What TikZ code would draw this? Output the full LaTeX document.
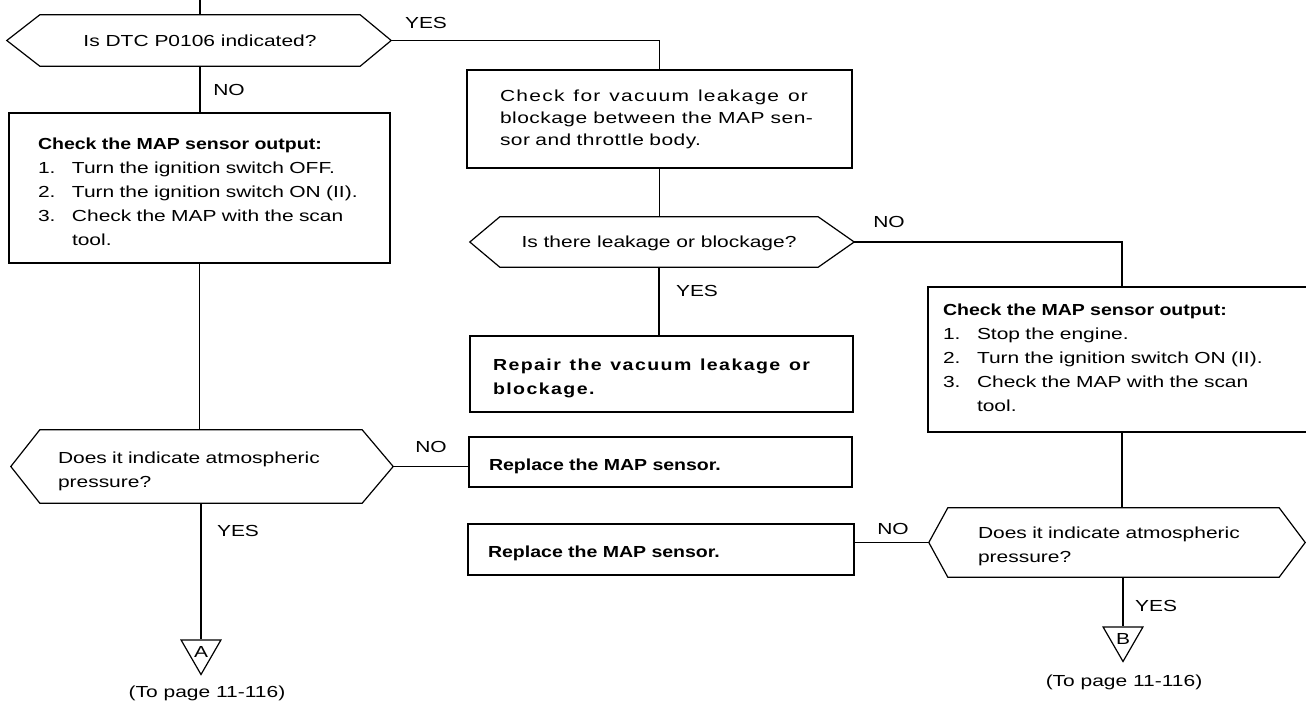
\documentclass[tikz,border=0pt]{standalone}
\usepackage{fontspec}
\setmainfont{Liberation Sans}[UprightFeatures={FakeStretch=1.31}, BoldFeatures={FakeStretch=1.22}]
\usetikzlibrary{shapes.geometric}
\newcommand\hexshape[3]{%
  \draw[conn] (#1.north west) -- ([xshift=-#2pt]#1.west) coordinate (#1w) -- (#1.south west)
    -- (#1.south east) -- ([xshift=#3pt]#1.east) coordinate (#1e) -- (#1.north east) -- cycle;}
\tikzset{
  conn/.style={line width=1.2pt, draw=black},
  box/.style={draw=black, line width=1.2pt, rectangle, align=left, inner ysep=0pt, font=\fontsize{16}{24}\selectfont},
  dec/.style={rectangle, draw=none, inner ysep=0pt, font=\fontsize{16}{24}\selectfont},
  lbl/.style={inner sep=0pt, font=\fontsize{16}{19}\selectfont},
  tri/.style={draw=black, line width=1.2pt, regular polygon, regular polygon sides=3, shape border rotate=180, minimum size=46pt, inner sep=0pt, font=\fontsize{16}{19}\selectfont},
}
\begin{document}
\begin{tikzpicture}[x=1pt,y=-1pt]
\useasboundingbox (0,0) rectangle (1306,703);
\clip (0,0) rectangle (1306,703);
\fill[white] (0,0) rectangle (1306,703);

% left column
\node[dec, minimum width=320pt, minimum height=51pt, text height=12pt, text depth=0pt] (d1) at (200,40.5) {Is DTC P0106 indicated?};
\hexshape{d1}{33}{31}

\node[box, minimum width=381pt, minimum height=150pt, text width=323pt, inner xsep=29pt, text height=19pt, text depth=96pt] (b1) at (199.5,188)
{\textbf{Check the MAP sensor output:}\\
\makebox[34pt][l]{1.}Turn the ignition switch OFF.\\
\makebox[34pt][l]{2.}Turn the ignition switch ON (II).\\
\makebox[34pt][l]{3.}Check the MAP with the scan\\
\hspace*{34pt}tool.};

\node[dec, align=left, text width=286pt, inner xsep=18pt, minimum width=322pt, minimum height=73pt, text height=17pt, text depth=24pt] (d3) at (201,466.5)
{Does it indicate atmospheric\\ pressure?};
\hexshape{d3}{29}{31}

\node[tri] (tA) at (201,651.5) {A};
\node[lbl] (pA) at (207,693) {(To page 11-116)};

% middle column
\node[box, font=\fontsize{16}{22}\selectfont\addfontfeatures{LetterSpace=3}, minimum width=385pt, minimum height=98pt, text width=319pt, inner xsep=33pt] (b2) at (659.5,119)
{\makebox[308pt][l]{\addfontfeatures{LetterSpace=8}Check\hfill for\hfill vacuum\hfill leakage\hfill or}\\
\makebox[313pt][l]{blockage\hfill between\hfill the\hfill MAP\hfill sen-}\\
sor and throttle body.};

\node[dec, minimum width=318pt, minimum height=50pt, text height=12pt, text depth=0pt] (d2) at (659,242) {Is there leakage or blockage?};
\hexshape{d2}{30}{36}

\node[box, minimum width=383pt, minimum height=76pt, text width=337pt, inner xsep=23pt, text height=16pt, text depth=24pt] (b3) at (661.5,374)
{\bfseries\addfontfeatures{LetterSpace=9}\makebox[317pt][l]{Repair\hfill the\hfill vacuum\hfill leakage\hfill or}\\ blockage.};

\node[box, minimum width=383pt, minimum height=50pt, text width=343pt, inner xsep=20pt, text height=18pt, text depth=2pt] (b4) at (660.5,462) {\textbf{Replace the MAP sensor.}};
\node[box, minimum width=386pt, minimum height=51pt, text width=346pt, inner xsep=20pt, text height=18pt, text depth=2pt] (b5) at (661,549.5) {\textbf{Replace the MAP sensor.}};

% right column
\node[box, minimum width=388pt, minimum height=145pt, text width=358pt, inner xsep=15pt, text height=9pt, text depth=96pt] (b6) at (1122,359.5)
{\textbf{Check the MAP sensor output:}\\
\makebox[34pt][l]{1.}Stop the engine.\\
\makebox[34pt][l]{2.}Turn the ignition switch ON (II).\\
\makebox[34pt][l]{3.}Check the MAP with the scan\\
\hspace*{34pt}tool.};

\node[dec, align=left, text width=271pt, inner xsep=30pt, minimum width=331pt, minimum height=69pt, text height=15pt, text depth=24pt] (d4) at (1113.5,542.5)
{Does it indicate atmospheric\\ pressure?};
\hexshape{d4}{19}{26}

\node[tri] (tB) at (1123,638.5) {B};
\node[lbl] (pB) at (1124,682) {(To page 11-116)};

% labels
\node[lbl] (yes1) at (426,22.5) {YES};
\node[lbl] (no1) at (229,90) {NO};
\node[lbl] (no2) at (889,222) {NO};
\node[lbl] (yes2) at (697,291) {YES};
\node[lbl] (no3) at (431,447) {NO};
\node[lbl] (yes3) at (238,531) {YES};
\node[lbl] (no4) at (893,528.5) {NO};
\node[lbl] (yes4) at (1156,606) {YES};

% connectors
\coordinate (top) at (200,0);
\draw[conn] (top) -- (top |- d1.north);
\draw[conn] (d1e) -| (b2.north);
\draw[conn] (d1.south) -- (d1.south |- b1.north);
\draw[conn] (b1.south) -- (b1.south |- d3.north);
\draw[conn] (d3.south) -- (d3.south |- tA.north);
\draw[conn] (d3e) -- (d3e -| b4.west);
\draw[conn] (b2.south) -- (b2.south |- d2.north);
\draw[conn] (d2.south) -- (d2.south |- b3.north);
\draw[conn] (d2e) -| (b6.north);
\draw[conn] (b6.south) -- (b6.south |- d4.north);
\draw[conn] (d4w) -- (d4w -| b5.east);
\draw[conn] (tB.north |- d4.south) -- (tB.north);
\end{tikzpicture}
\end{document}
